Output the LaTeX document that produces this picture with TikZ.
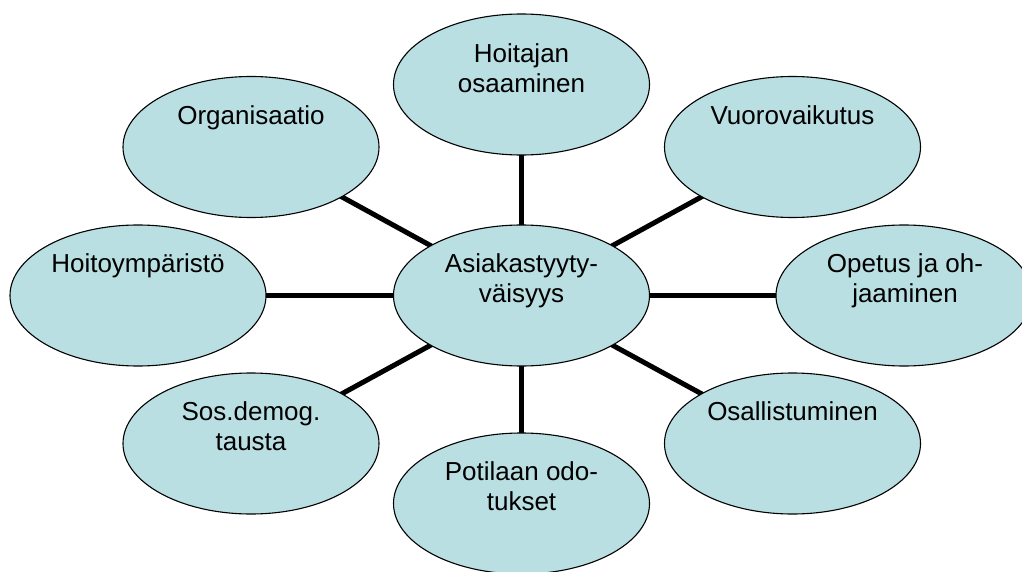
\documentclass[tikz,border=0pt]{standalone}
\usepackage{fontspec}
\setmainfont{Liberation Sans}
\usetikzlibrary{shapes.geometric,backgrounds}
\definecolor{bubble}{RGB}{185,223,227}
\begin{document}
\begin{tikzpicture}[x=1pt,y=-1pt,
  bub/.style={ellipse,draw=black,line width=1.1pt,fill=bubble,minimum width=256pt,minimum height=141pt,inner sep=0pt,outer sep=0pt},
  lbl/.style={anchor=north,inner sep=0pt,align=center,font=\fontsize{26}{30}\selectfont},
  spoke/.style={line width=5pt}]
\useasboundingbox (0,0) rectangle (1022,572);
\clip (0,0) rectangle (1022,572);
% bubbles
\node[bub] (c)  at (521.5,295.5) {};
\node[bub] (n)  at (521.5,84.5)  {};
\node[bub] (nw) at (251,147)     {};
\node[bub] (ne) at (792.5,147)   {};
\node[bub] (w)  at (138,295.5)   {};
\node[bub] (e)  at (904,295.5)   {};
\node[bub] (sw) at (251,443.5)   {};
\node[bub] (se) at (792.5,443.5) {};
\node[bub] (s)  at (521.5,503.5) {};
% spokes behind the bubbles
\begin{pgfonlayer}{background}
\foreach \o in {n,nw,ne,w,e,sw,se,s}
  \draw[spoke] (c.center) -- (\o.center);
\end{pgfonlayer}
% labels
\node[lbl] (tc)  at (521.5,253)  {Asiakastyyty-\\väisyys};
\node[lbl] (tn)  at (521.5,43)   {Hoitajan\\osaaminen};
\node[lbl] (tnw) at (251,105)    {Organisaatio};
\node[lbl] (tne) at (792.5,105)  {Vuorovaikutus};
\node[lbl] (tw)  at (138,253)    {Hoitoympäristö};
\node[lbl] (te)  at (905,253)    {Opetus ja oh-\\jaaminen};
\node[lbl] (tsw) at (251,401)    {Sos.demog.\\tausta};
\node[lbl] (tse) at (792.5,401)  {Osallistuminen};
\node[lbl] (ts)  at (521.5,461)  {Potilaan odo-\\tukset};
\end{tikzpicture}
\end{document}
